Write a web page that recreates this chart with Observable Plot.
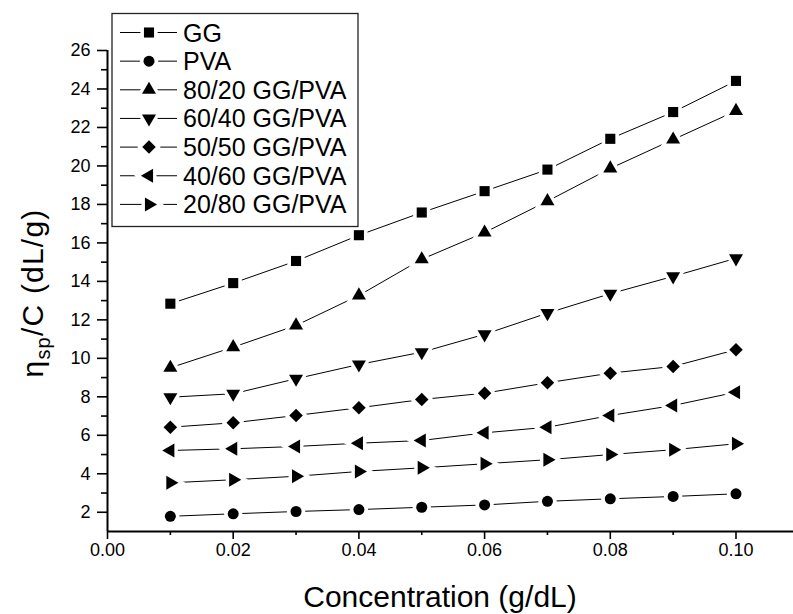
<!DOCTYPE html>
<html>
<head>
<meta charset="utf-8">
<script src="https://cdn.jsdelivr.net/npm/d3@7"></script>
<script src="https://cdn.jsdelivr.net/npm/@observablehq/plot@0.6"></script>
<style>
  body { margin: 0; background: white; }
</style>
</head>
<body>
<div id="chart"></div>
<script>
// ---- data ----
const concentration = [0.01, 0.02, 0.03, 0.04, 0.05, 0.06, 0.07, 0.08, 0.09, 0.10];
const seriesNames = ["GG", "PVA", "80/20 GG/PVA", "60/40 GG/PVA", "50/50 GG/PVA", "40/60 GG/PVA", "20/80 GG/PVA"];
const ggValues     = [12.84, 13.91, 15.06, 16.40, 17.58, 18.69, 19.81, 21.41, 22.80, 24.42];
const pvaValues    = [1.79, 1.92, 2.04, 2.14, 2.26, 2.38, 2.57, 2.70, 2.82, 2.96];
const blend8020    = [9.51, 10.58, 11.71, 13.27, 15.15, 16.54, 18.17, 19.87, 21.37, 22.86];
const blend6040    = [7.98, 8.16, 8.94, 9.68, 10.32, 11.25, 12.35, 13.36, 14.26, 15.20];
const blend5050    = [6.42, 6.65, 7.03, 7.43, 7.86, 8.19, 8.73, 9.23, 9.58, 10.45];
const blend4060    = [5.21, 5.30, 5.42, 5.59, 5.73, 6.13, 6.42, 7.03, 7.55, 8.24];
const blend2080    = [3.53, 3.69, 3.87, 4.12, 4.31, 4.52, 4.73, 5.00, 5.25, 5.56];
const xTickValues = [0.00, 0.02, 0.04, 0.06, 0.08, 0.10];
const xMinorTicks = [0.01, 0.03, 0.05, 0.07, 0.09];
const yTickValues = [2, 4, 6, 8, 10, 12, 14, 16, 18, 20, 22, 24, 26];
const yMinorTicks = [3, 5, 7, 9, 11, 13, 15, 17, 19, 21, 23, 25];
const xTitle = "Concentration (g/dL)";

// ---- build table ----
const seriesValues = [ggValues, pvaValues, blend8020, blend6040, blend5050, blend4060, blend2080];
const markerStyle = [
  {type: "square",   d3type: d3.symbolSquare,   rotate: 0,   r: 5.7},
  {type: "circle",   d3type: d3.symbolCircle,   rotate: 0,   r: 5.5},
  {type: "triangle", d3type: d3.symbolTriangle, rotate: 0,   r: 5.2},
  {type: "triangle", d3type: d3.symbolTriangle, rotate: 180, r: 5.2},
  {type: "square",   d3type: d3.symbolSquare,   rotate: 45,  r: 5.4},
  {type: "triangle", d3type: d3.symbolTriangle, rotate: -90, r: 5.2},
  {type: "triangle", d3type: d3.symbolTriangle, rotate: 90,  r: 5.2}
];
const rows = [];
seriesNames.forEach((s, i) => {
  seriesValues[i].forEach((v, j) => rows.push({s, i, x: concentration[j], y: v}));
});

const dotMarks = [];
seriesNames.forEach((s, i) => {
  const m = markerStyle[i];
  const data = rows.filter(d => d.i === i);
  dotMarks.push(Plot.dot(data, {x: "x", y: "y", symbol: m.type, rotate: m.rotate, r: m.r + 1.2,
    fill: "white", stroke: "white", strokeWidth: 5}));
});
seriesNames.forEach((s, i) => {
  const m = markerStyle[i];
  const data = rows.filter(d => d.i === i);
  dotMarks.push(Plot.dot(data, {x: "x", y: "y", symbol: m.type, rotate: m.rotate, r: m.r,
    fill: "black", stroke: "none"}));
});

const font = "'Liberation Sans', Arial, Helvetica, sans-serif";

const chart = Plot.plot({
  width: 793,
  height: 614,
  marginLeft: 107,
  marginRight: 0,
  marginTop: 50,
  marginBottom: 83,
  style: {fontFamily: font, fontSize: "18px", color: "black", background: "white", overflow: "visible"},
  x: {domain: [0, 0.10915]},
  y: {domain: [1, 26]},
  marks: [
    Plot.axisX({ticks: xTickValues, tickSize: 8, tickPadding: 4, tickFormat: d3.format(".2f"), fontSize: 18, label: null, strokeWidth: 1.6}),
    Plot.axisX({ticks: xMinorTicks, tickSize: 4, tickFormat: () => "", label: null, strokeWidth: 1.6}),
    Plot.axisY({ticks: yTickValues, tickSize: 10, tickPadding: 7, fontSize: 18, label: null, strokeWidth: 1.6}),
    Plot.axisY({ticks: yMinorTicks, tickSize: 6, tickFormat: () => "", label: null, strokeWidth: 1.6}),
    Plot.ruleY([1], {strokeWidth: 2}),
    Plot.ruleX([{x: 0, y1: 1, y2: 26}], {x: "x", y1: "y1", y2: "y2", strokeWidth: 2}),
    Plot.line(rows, {x: "x", y: "y", z: "s", stroke: "black", strokeWidth: 1}),
    ...dotMarks
  ]
});
document.getElementById("chart").appendChild(chart);

// ---- titles ----
const svg = d3.select(chart);
svg.append("text")
  .attr("x", 440).attr("y", 607)
  .attr("text-anchor", "middle")
  .attr("font-family", font).attr("font-size", 30).attr("fill", "black")
  .text(xTitle);

const yt = svg.append("text")
  .attr("transform", "translate(43,293) rotate(-90)")
  .attr("text-anchor", "middle")
  .attr("letter-spacing", 1.2)
  .attr("font-family", font).attr("font-size", 30).attr("fill", "black");
yt.append("tspan").text("\u03B7");
yt.append("tspan").attr("font-size", 20).attr("dy", 7).text("sp");
yt.append("tspan").attr("dy", -7).text("/C (dL/g)");

// ---- legend ----
const lg = svg.append("g");
lg.append("rect")
  .attr("x", 112).attr("y", 13.5).attr("width", 246).attr("height", 213)
  .attr("fill", "white").attr("stroke", "#222").attr("stroke-width", 1.3);
seriesNames.forEach((name, i) => {
  const cy = 32.5 + i * 28.65;
  const m = markerStyle[i];
  lg.append("line").attr("x1", 120).attr("x2", 177).attr("y1", cy).attr("y2", cy)
    .attr("stroke", "black").attr("stroke-width", 1);
  lg.append("path")
    .attr("d", d3.symbol(m.d3type, Math.PI * (m.r + 1.2) ** 2)())
    .attr("transform", `translate(149,${cy}) rotate(${m.rotate})`)
    .attr("fill", "white").attr("stroke", "white").attr("stroke-width", 5);
  lg.append("path")
    .attr("d", d3.symbol(m.d3type, Math.PI * m.r ** 2)())
    .attr("transform", `translate(149,${cy}) rotate(${m.rotate})`)
    .attr("fill", "black");
  lg.append("text")
    .attr("x", 183).attr("y", cy).attr("dy", "0.36em")
    .attr("text-anchor", "start")
    .attr("font-family", font).attr("font-size", 25).attr("fill", "black")
    .text(name);
});
</script>
</body>
</html>
